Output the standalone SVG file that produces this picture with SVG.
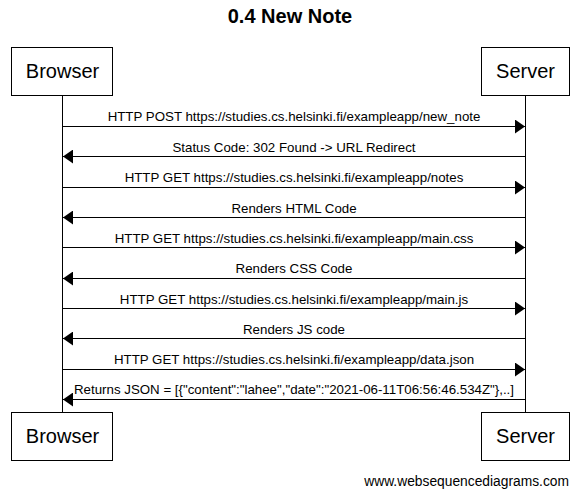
<svg xmlns="http://www.w3.org/2000/svg" width="581" height="492" viewBox="0 0 581 492">
<style>
.box{fill:#fff;stroke:#000;stroke-width:1}
.life{stroke:#000;stroke-width:1}
.msg{stroke:#000;stroke-width:1;fill:none}
.pt{font-family:"Liberation Sans",Arial,sans-serif;font-size:20px;text-anchor:middle;fill:#000}
.lbl{font-family:"Liberation Sans",Arial,sans-serif;font-size:13.3px;text-anchor:middle;fill:#000}
.title{font-family:"Liberation Sans",Arial,sans-serif;font-size:20px;font-weight:bold;text-anchor:middle;fill:#000}
.wm{font-family:"Liberation Sans",Arial,sans-serif;font-size:13.8px;text-anchor:end;fill:#000}
</style>
<defs>
<marker id="ah" viewBox="0 0 10 14" refX="10" refY="7" markerWidth="10" markerHeight="14" markerUnits="userSpaceOnUse" orient="auto">
<path d="M0,0 L10,7 L0,14 Z" fill="#000"/>
</marker>
</defs>
<rect width="581" height="492" fill="#fff"/>
<text class="title" x="290" y="23">0.4 New Note</text>
<g id="lifelines">
<line class="life" x1="62.5" y1="96" x2="62.5" y2="412"/>
<line class="life" x1="525.5" y1="96" x2="525.5" y2="412"/>
</g>
<g id="browser-top"><rect class="box" x="11.5" y="47.5" width="101" height="48"/><text class="pt" x="62.5" y="78">Browser</text></g>
<g id="server-top"><rect class="box" x="481.5" y="47.5" width="88" height="48"/><text class="pt" x="525.5" y="78">Server</text></g>
<g id="browser-bottom"><rect class="box" x="11.5" y="412.5" width="101" height="48"/><text class="pt" x="62.5" y="443">Browser</text></g>
<g id="server-bottom"><rect class="box" x="481.5" y="412.5" width="88" height="48"/><text class="pt" x="525.5" y="443">Server</text></g>
<g id="connectors">
<line class="msg" x1="63" y1="126.5" x2="525" y2="126.5" marker-end="url(#ah)"/>
<text class="lbl" x="294" y="121">HTTP POST https://studies.cs.helsinki.fi/exampleapp/new_note</text>
<line class="msg" x1="525" y1="156.5" x2="63" y2="156.5" marker-end="url(#ah)"/>
<text class="lbl" x="294" y="152">Status Code: 302 Found -&gt; URL Redirect</text>
<line class="msg" x1="63" y1="187.5" x2="525" y2="187.5" marker-end="url(#ah)"/>
<text class="lbl" x="294" y="182">HTTP GET https://studies.cs.helsinki.fi/exampleapp/notes</text>
<line class="msg" x1="525" y1="217.5" x2="63" y2="217.5" marker-end="url(#ah)"/>
<text class="lbl" x="294" y="213">Renders HTML Code</text>
<line class="msg" x1="63" y1="247.5" x2="525" y2="247.5" marker-end="url(#ah)"/>
<text class="lbl" x="294" y="243">HTTP GET https://studies.cs.helsinki.fi/exampleapp/main.css</text>
<line class="msg" x1="525" y1="278.5" x2="63" y2="278.5" marker-end="url(#ah)"/>
<text class="lbl" x="294" y="273">Renders CSS Code</text>
<line class="msg" x1="63" y1="308.5" x2="525" y2="308.5" marker-end="url(#ah)"/>
<text class="lbl" x="294" y="304">HTTP GET https://studies.cs.helsinki.fi/exampleapp/main.js</text>
<line class="msg" x1="525" y1="338.5" x2="63" y2="338.5" marker-end="url(#ah)"/>
<text class="lbl" x="294" y="334">Renders JS code</text>
<line class="msg" x1="63" y1="369.5" x2="525" y2="369.5" marker-end="url(#ah)"/>
<text class="lbl" x="294" y="364">HTTP GET https://studies.cs.helsinki.fi/exampleapp/data.json</text>
<line class="msg" x1="525" y1="399.5" x2="63" y2="399.5" marker-end="url(#ah)"/>
<text class="lbl" x="294" y="394">Returns JSON = [{"content":"lahee","date":"2021-06-11T06:56:46.534Z"},..]</text>
</g>
<text class="wm" x="569" y="486">www.websequencediagrams.com</text>
</svg>
